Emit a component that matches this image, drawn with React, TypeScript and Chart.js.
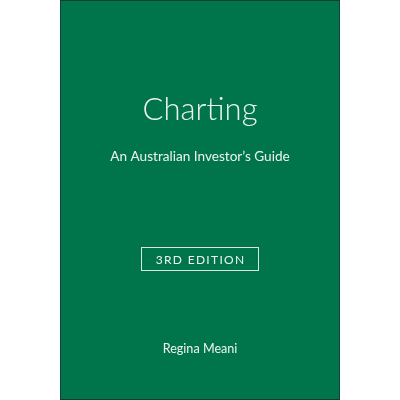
import { useEffect, useRef } from 'react';
import { Chart, registerables } from 'chart.js';

Chart.register(...registerables);

// cover panel as one floating bar on a 0..400 vertical scale
const panels = ['cover'];
const panelRange: [number, number][] = [[0, 400]];

// cover text, top to bottom
const coverLines = ['Charting', 'An Australian Investor\u2019s Guide', '3RD EDITION', 'Regina Meani'];
// baseline of each line on the same vertical scale
const lineBaselines = [120, 161, 263.5, 353];

const lineFonts = [
  '300 31px Lato, "Noto Sans", sans-serif',
  '400 13.6px Lato, "Noto Sans", sans-serif',
  '400 12px Lato, "Noto Sans", sans-serif',
  '400 12.6px Lato, "Noto Sans", sans-serif',
];

const coverText = {
  id: 'coverText',
  afterDatasetsDraw(chart: Chart) {
    const { ctx, chartArea, scales } = chart;
    const cx = (chartArea.left + chartArea.right) / 2;
    ctx.save();
    ctx.fillStyle = '#eef5ef';
    ctx.textAlign = 'center';
    ctx.textBaseline = 'alphabetic';
    coverLines.forEach((line, i) => {
      ctx.font = lineFonts[i];
      (ctx as any).letterSpacing = i === 2 ? '1.3px' : '0px';
      const y = scales.y.getPixelForValue(lineBaselines[i]);
      ctx.fillText(line, cx + (i === 2 ? 0.6 : 0), y);
    });
    // frame round the edition label
    const top = scales.y.getPixelForValue(247.5);
    const bottom = scales.y.getPixelForValue(270.5);
    ctx.strokeStyle = '#d9e8dd';
    ctx.lineWidth = 1;
    ctx.strokeRect(141.5, top, 117, bottom - top);
    ctx.restore();
  },
};

export default function App() {
  const canvasRef = useRef<HTMLCanvasElement>(null);
  const chartRef = useRef<Chart | null>(null);

  useEffect(() => {
    if (!canvasRef.current) return;
    if (chartRef.current) chartRef.current.destroy();

    chartRef.current = new Chart(canvasRef.current, {
      type: 'bar',
      data: {
        labels: panels,
        datasets: [{
          data: panelRange as any,
          backgroundColor: '#00744b',
          borderColor: '#1c2e22',
          borderWidth: 1,
          borderSkipped: false,
          barPercentage: 1,
          categoryPercentage: 1,
        }],
      },
      options: {
        animation: false,
        responsive: true,
        maintainAspectRatio: false,
        layout: { padding: { left: 60, right: 60, top: 0, bottom: 0 } },
        plugins: {
          legend: { display: false },
          tooltip: { enabled: false },
        },
        scales: {
          x: { display: false },
          y: { display: false, min: 0, max: 400, reverse: true },
        },
      },
      plugins: [coverText],
    });

    return () => chartRef.current?.destroy();
  }, []);

  return (
    <div style={{ position: 'fixed', left: 0, top: 0, width: 400, height: 400, background: '#fff' }}>
      <canvas ref={canvasRef} />
    </div>
  );
}
